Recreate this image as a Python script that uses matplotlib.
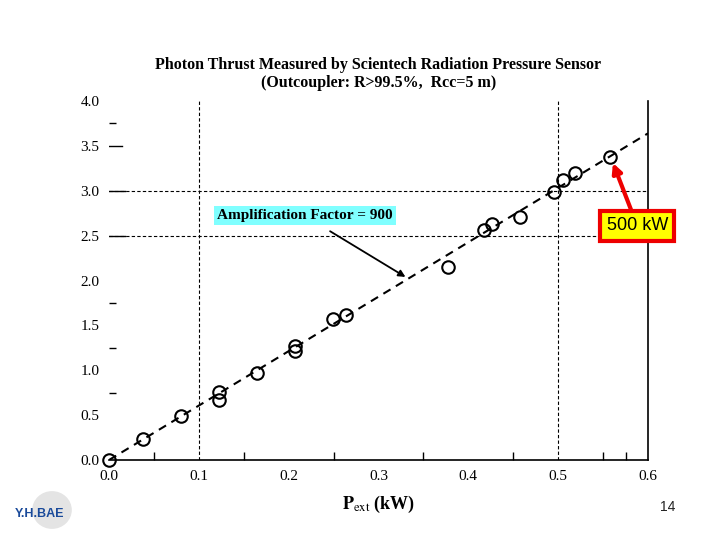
import matplotlib.pyplot as plt
from matplotlib.patches import Ellipse

plt.rcParams["font.family"] = ["Liberation Serif", "DejaVu Serif"]
plt.rcParams["mathtext.fontset"] = "stix"

# measured thrust points (P_ext in kW, thrust in arbitrary units)
p_ext = [0.0, 0.038, 0.080, 0.122, 0.122, 0.165, 0.207, 0.207, 0.249, 0.264,
         0.377, 0.417, 0.426, 0.458, 0.495, 0.505, 0.519, 0.558]
thrust = [0.0, 0.23, 0.49, 0.76, 0.67, 0.97, 1.27, 1.21, 1.57, 1.62,
          2.15, 2.56, 2.63, 2.71, 2.99, 3.12, 3.20, 3.38]

# linear fit (through origin)
fit_x = [0.0, 0.6]
fit_y = [0.0, 3.64]

x_ticks = [0.0, 0.1, 0.2, 0.3, 0.4, 0.5, 0.6]
x_minor = [0.05, 0.15, 0.25, 0.35, 0.45, 0.55, 0.575]
y_ticks = [0.0, 0.5, 1.0, 1.5, 2.0, 2.5, 3.0, 3.5, 4.0]
y_minor = [0.75, 1.25, 1.75, 3.75]
grid_x = [0.1, 0.5]
grid_y = [2.5, 3.0]

fig = plt.figure(figsize=(7.2, 5.4), dpi=100)
ax = fig.add_axes([0.1514, 0.1481, 0.7486, 0.6648])

for gx in grid_x:
    ax.axvline(gx, color="black", lw=0.8, ls=(0, (3, 2)), zorder=1)
for gy in grid_y:
    ax.axhline(gy, color="black", lw=0.8, ls=(0, (3, 2)), zorder=1)
    ax.axhline(gy, xmax=0.03, color="black", lw=1.0, zorder=1)
ax.axhline(3.5, xmax=0.025, color="black", lw=1.0)

ax.plot(fit_x, fit_y, color="black", lw=1.5, ls=(0, (4, 3)), zorder=2)
ax.plot(p_ext, thrust, "o", mfc="none", mec="black", mew=1.5, ms=9,
        zorder=3, clip_on=False)

ax.set_xlim(0, 0.6)
ax.set_ylim(0, 4.0)
ax.set_xticks(x_ticks)
ax.set_xticklabels([f"{v:.1f}" for v in x_ticks])
ax.set_xticks(x_minor, minor=True)
ax.set_yticks(y_ticks)
ax.set_yticklabels([f"{v:.1f}" for v in y_ticks])
ax.set_yticks(y_minor, minor=True)
ax.tick_params(axis="x", which="major", direction="in", length=0, labelsize=11, pad=7)
ax.tick_params(axis="x", which="minor", direction="in", length=6, width=1)
ax.tick_params(axis="y", which="major", length=0, labelsize=11, pad=7)
ax.tick_params(axis="y", which="minor", direction="in", length=5, width=1)

ax.spines["left"].set_visible(False)
ax.spines["top"].set_visible(False)
ax.spines["right"].set_linewidth(1.2)
ax.spines["bottom"].set_linewidth(1.2)

ax.set_title("Photon Thrust Measured by Scientech Radiation Pressure Sensor\n"
             "(Outcoupler: R>99.5%,  Rcc=5 m)",
             fontsize=11.5, fontweight="bold", linespacing=1.15, pad=10)
ax.set_xlabel(r"$\mathbf{P}_{\mathrm{ext}}$ (kW)", fontsize=13,
              fontweight="bold", labelpad=8)

# annotation: amplification factor
ax.annotate("Amplification Factor = 900", xy=(0.330, 2.04), xytext=(0.218, 2.72),
            ha="center", va="center", fontsize=11, fontweight="bold",
            bbox=dict(boxstyle="square,pad=0.2", fc="#80ffff", ec="none"),
            arrowprops=dict(arrowstyle="-|>", color="black", lw=1.3,
                            shrinkA=8, shrinkB=0, mutation_scale=10))

# annotation: 500 kW point
ax.annotate("500 kW", xy=(0.561, 3.31), xytext=(0.588, 2.61),
            ha="center", va="center", fontsize=13, family="Liberation Sans",
            annotation_clip=False,
            bbox=dict(boxstyle="square,pad=0.35", fc="#ffff00", ec="#ee0000", lw=3),
            arrowprops=dict(arrowstyle="-|>", color="#ee0000", lw=3,
                            shrinkA=0, shrinkB=0, mutation_scale=14))

# slide page number and logo
fig.text(668 / 720, 1 - 507 / 540, "14", fontsize=10, family="Liberation Sans",
         ha="center", va="center", color="#222222")
fig.patches.append(Ellipse((52 / 720, 1 - 510 / 540), 0.055, 0.07,
                           transform=fig.transFigure, fc="#e4e4e4", ec="none"))
fig.text(40 / 720, 1 - 514 / 540, "Y.H.BAE", fontsize=9, fontweight="bold",
         family="Liberation Sans", color="#1a4a9a", ha="center", va="center")

fig.savefig("out.png", dpi=100)
